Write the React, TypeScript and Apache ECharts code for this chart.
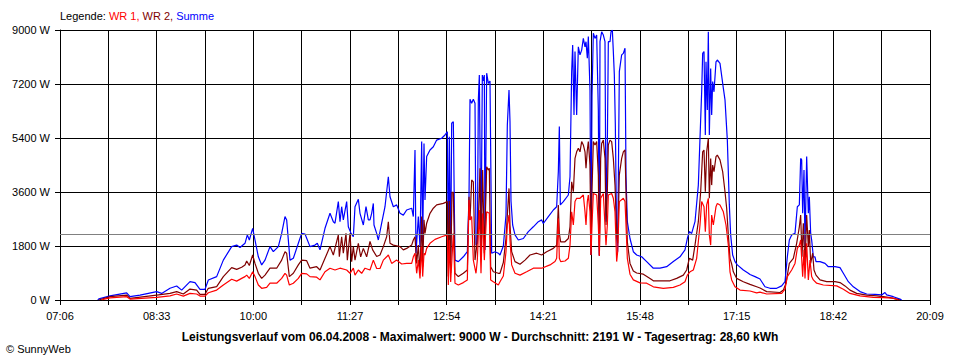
import React, { useEffect, useRef } from "react";
import * as echarts from "echarts";

// time in minutes of the day, power in W
const START_MIN = 426; // 07:06
const END_MIN = 1209; // 20:09
const TICK_STEP = 43.5;
const LABEL_STEP = 87;
const Y_MAX = 9000;
const Y_STEP = 1800;
const AVERAGE = 2191;

const TITLE =
  "Leistungsverlauf vom 06.04.2008 - Maximalwert: 9000 W - Durchschnitt: 2191 W - Tagesertrag: 28,60 kWh";

const summe: number[][] = [
  [460,0],[461,40],[471,140],[486,240],[489,110],[498,165],[513,280],[517.5,220],[525,390],[531,465],[535.5,330],[543,610],[547.5,580],[552,355],[556.5,355],[559.5,665],[567,780],[573,1330],[580.5,1780],[585,1830],[588,1750],[592.5,1890],[594.6,2170],[596.4,2000],[599.4,2390],[601.5,2000],[604.5,1440],[607.5,1170],[610.5,1330],[615,1780],[618,1610],[622.5,1780],[625.5,2220],[628.5,2780],[630,2670],[633,1330],[636,1390],[640.5,1890],[643.5,2220],[646.5,2200],[651,1780],[655.5,1830],[657.6,1890],[660,1670],[664.5,2390],[669,2890],[672,2610],[673.5,2560],[676.5,3280],[678,2610],[679.5,3110],[681,2670],[684,3280],[685.5,2440],[687.9,2220],[690,2110],[691.5,3110],[694.5,3360],[696,2890],[699,2500],[701.4,3110],[703.5,2670],[705,2670],[706.5,2890],[708,3220],[708.6,2500],[711,2220],[712.5,2000],[715.5,2560],[718.5,3110],[721.5,4110],[723,3440],[726,3110],[729,3170],[732,2890],[735,2830],[738,3000],[742.5,3060],[744,2780],[745.5,5000],[746.4,1560],[748.5,2780],[750,1780],[751.5,5280],[752.4,1830],[753.6,5220],[754.5,3330],[756,4780],[759,5000],[762,5110],[765,5330],[769.5,5390],[772.5,5500],[774.6,5610],[775.5,1330],[776.4,5440],[777.6,1330],[778.5,5890],[780,5940],[781.5,1330],[784.5,1280],[789,1440],[792.6,1610],[794.1,3440],[795,6690],[796.5,6560],[798,6690],[799.5,6560],[800.4,1830],[801.6,1890],[802.5,6670],[803.4,7500],[804.9,1670],[806.1,7500],[807,7300],[807.9,7500],[808.5,1670],[810,7560],[811.5,7220],[813,7300],[814.5,1560],[817.5,1610],[820.5,1560],[822,1500],[825,1800],[827.4,2830],[828.6,5830],[830.1,7000],[831,5940],[831.9,3300],[833.4,2500],[835.5,2170],[838.5,2000],[843,2050],[847.5,2280],[852,2440],[856.5,2610],[859.5,2670],[861,2550],[865.5,2780],[870,3000],[873,3110],[874.5,4280],[875.4,5780],[876.3,3170],[879,3280],[883.5,3500],[885,4110],[886.5,7610],[887.4,8500],[888.6,6170],[889.5,8280],[891,6170],[892.5,8440],[894,8170],[895.5,8330],[897,8720],[898.5,8440],[899.4,8610],[900.6,8060],[901.5,8780],[903,7000],[903.9,1500],[904.8,6780],[906,8890],[907.5,8720],[909,8830],[910.5,6330],[911.4,1470],[912,8610],[913.5,8940],[915,8830],[916.5,8610],[917.4,2610],[918.6,5170],[919.5,8610],[921,8610],[921.9,8940],[923.1,9000],[924,8280],[924.9,7500],[925.8,5830],[927,2050],[927.9,1610],[929.4,7610],[930.6,7940],[931.5,8170],[933,8220],[934.5,8390],[935.4,4140],[936.6,2610],[939,2050],[942,1610],[945,1500],[949.5,1440],[954,1280],[960,1060],[966,1060],[972,1110],[978,1280],[984,1440],[988.5,1670],[990.6,2050],[992.4,2280],[994.5,2220],[997.5,2610],[1000.5,3830],[1002,5390],[1003.5,6940],[1004.4,8220],[1005.6,8280],[1006.8,5500],[1007.4,7940],[1008.6,6330],[1009.5,8940],[1010.4,5500],[1011.6,7720],[1012.5,6170],[1013.4,7280],[1014.6,6940],[1016.4,7940],[1017.6,8000],[1020,7890],[1023,7060],[1024.5,6670],[1026.6,5330],[1028.4,3170],[1029.6,2170],[1030.5,1830],[1031.4,1500],[1033.5,1280],[1035.6,1170],[1041,1000],[1045.5,890],[1047,850],[1051.5,780],[1056,700],[1060.5,440],[1065,390],[1071,390],[1075.5,470],[1078.5,610],[1080.6,1440],[1082.4,2000],[1084.5,2170],[1087.5,2220],[1089.6,3110],[1091.4,3170],[1092.6,4720],[1093.5,4670],[1094.4,2890],[1095.6,4330],[1096.5,1780],[1098,4780],[1099.5,2890],[1100.4,3440],[1101.6,2220],[1102.5,2000],[1104,1440],[1105.5,1440],[1106.4,1280],[1110,1280],[1114.5,1220],[1117.5,1110],[1123.5,1110],[1128,1080],[1131,890],[1135.5,610],[1140,440],[1146,280],[1152,200],[1159.5,190],[1165.5,170],[1168.5,250],[1170,170],[1176,110],[1182,30],[1183.5,0]
];

const wr2: number[][] = [
  [461,0],[471,110],[486,165],[489,55],[513,165],[525,220],[531,280],[537,200],[543,365],[549,330],[552,190],[556.5,190],[559.5,390],[567,445],[573,780],[580.5,1080],[585,1020],[589.5,1090],[592.5,1170],[594,1300],[596.4,1150],[599.4,1500],[601.5,1220],[604.5,890],[607.5,720],[610.5,830],[615,1060],[621,1060],[625.5,1330],[628.5,1610],[630,1560],[632.4,780],[636,890],[640.5,1170],[643.5,1330],[648,1310],[651,1060],[657,1110],[660,1000],[664.5,1390],[669,1780],[672,1500],[676.5,2170],[677.4,1440],[679.5,2110],[681,1560],[683.4,2220],[684.6,1330],[687,2220],[688.5,1280],[690,1780],[691.5,1330],[694.5,1890],[696.6,1440],[699,1720],[702,1440],[705,1950],[707.4,1670],[711,1450],[714,1500],[717,1780],[720,2110],[721.5,2610],[723,1890],[726,1830],[732,1780],[735,1670],[738,1720],[742.5,1830],[744,2000],[745.5,2110],[747,1220],[748.5,1830],[750,890],[751.5,2780],[752.4,1110],[753.6,2670],[754.5,2220],[756,2560],[759,2890],[762,3060],[765,3170],[771,3220],[774.6,3280],[775.5,780],[776.4,3300],[777.6,900],[778.8,3590],[780,3590],[781.5,890],[784.5,780],[789,890],[792.6,1000],[794.1,3440],[795,2670],[796.5,4000],[798,3940],[799.5,1330],[801,1780],[802.5,2670],[804,4390],[804.9,1330],[806.4,4330],[807.9,1560],[810,4440],[811.5,4330],[812.4,4390],[813.6,1110],[816,940],[820.5,890],[822,890],[825,1250],[827.4,2060],[828.6,2830],[830.1,3720],[831,2500],[832.5,1610],[835.5,1280],[840,1190],[844.5,1330],[849,1500],[855,1560],[859.5,1500],[864,1610],[870,1720],[873,1830],[874.5,3170],[875.4,2220],[876.6,1940],[880.5,1940],[883.5,2050],[885,2440],[886.5,3940],[888,3610],[889.5,4720],[891,4940],[892.5,5060],[894,4940],[895.5,5280],[897,5170],[898.5,4940],[899.4,4390],[900.6,5000],[901.5,5280],[903,4500],[903.9,1500],[904.8,3610],[906,5280],[907.5,5170],[909,5280],[910.5,4170],[911.4,1500],[912.6,4720],[913.5,5220],[915,5330],[916.5,4720],[917.4,2500],[918.6,3610],[919.5,5170],[921,5330],[922.5,5280],[924,4720],[925.5,3830],[927,2220],[927.9,1890],[929.4,4170],[931.5,4720],[933,4940],[934.5,5000],[935.4,3610],[936.6,1940],[939,1220],[942,970],[945,900],[951,860],[957,720],[960,640],[975,640],[981,720],[987,830],[990,1000],[992.4,1390],[995.4,1330],[997.5,1830],[1000.5,2610],[1002.6,3610],[1004.4,4940],[1005.6,5000],[1006.8,3610],[1008,4940],[1009.5,5390],[1010.4,3390],[1011.6,4720],[1012.5,3830],[1013.4,4500],[1014.6,4280],[1016.4,4780],[1017.6,4830],[1020,4670],[1022.4,4280],[1024.5,3610],[1026,3060],[1027.5,2170],[1029,1390],[1030.5,1200],[1032,940],[1035,720],[1041,610],[1047,520],[1053,440],[1056,400],[1062,280],[1074,250],[1077,330],[1079.4,560],[1082.4,1220],[1086,1390],[1089,1890],[1091.4,2440],[1092.6,2830],[1093.8,1440],[1095,2560],[1096.5,1110],[1098,2830],[1099.5,1780],[1100.4,2330],[1101.6,1220],[1103.4,1560],[1104.6,1000],[1106.4,830],[1110,670],[1116,610],[1123.5,610],[1128,580],[1132.5,470],[1137,330],[1143,220],[1152,160],[1161,140],[1167,110],[1173,80],[1179,30],[1182,0]
];

const wr1: number[][] = [
  [464,0],[465,20],[471,70],[486,110],[489,30],[513,90],[525,140],[531,200],[537,130],[543,220],[549,200],[552,130],[556.5,130],[559.5,240],[567,330],[573,500],[580.5,690],[585,630],[589.5,720],[592.5,780],[594,830],[596.4,720],[599.4,940],[601.5,780],[604.5,500],[607.5,390],[612,420],[615,560],[621,560],[625.5,720],[628.5,890],[630,830],[632.4,500],[636,560],[640.5,720],[643.5,890],[648,870],[651,780],[657,760],[660,670],[664.5,940],[669,1060],[673.5,1000],[678,1060],[684,1000],[687,890],[690,1060],[691.5,830],[694.5,1000],[697.5,890],[700.5,1060],[705,1000],[708,1330],[711,1050],[714,1050],[717,1330],[720,1440],[721.5,1500],[724.5,1220],[729,1330],[733.5,1200],[738,1220],[742.5,1220],[744,1440],[745.5,1560],[747,890],[748.5,1330],[750,720],[751.5,1780],[752.4,780],[753.6,1560],[754.5,1500],[756,1720],[759,1890],[763.5,2020],[769.5,2110],[774.6,2170],[775.5,500],[776.4,2000],[777.6,600],[780,2220],[781.5,560],[784.5,500],[789,580],[792.6,670],[794.1,3330],[795,2670],[796.5,2780],[798,1330],[800.4,890],[801.6,1330],[803.4,3000],[804.9,890],[806.4,2890],[807.9,1330],[810,2940],[812.4,2890],[813.6,670],[816,610],[820.5,500],[822,610],[825,800],[827.4,1610],[828.6,2500],[830.1,2830],[831,2000],[832.5,1170],[835.5,890],[840,830],[846,940],[852,1060],[859.5,1060],[867,1170],[871.5,1280],[873,1390],[874.5,2720],[875.4,1390],[876.6,1280],[880.5,1300],[883.5,1390],[885,1830],[886.5,2940],[888,2500],[889.5,3280],[891,3390],[894,3390],[897,3500],[898.5,2940],[899.4,2500],[900.6,3280],[901.5,3500],[903,2940],[903.9,1500],[904.8,2500],[906,3550],[909,3500],[910.5,2500],[911.4,1470],[912.6,3390],[915,3550],[917.4,1830],[918.6,2500],[919.5,3500],[922.5,3550],[924,3390],[925.5,2940],[927,1280],[927.9,1610],[929.4,3280],[933,3390],[934.5,3280],[935.4,2500],[936.6,1390],[939,860],[942,670],[948,570],[954,560],[960,440],[969,390],[978,420],[984,500],[988.5,610],[990.6,830],[993,940],[996,1000],[999,1390],[1002,2500],[1003.5,3280],[1005.6,3110],[1006.8,2280],[1008,3170],[1009.5,3390],[1010.4,2170],[1011.6,1830],[1012.5,2830],[1014,2500],[1016.4,3110],[1017.6,3220],[1020,3170],[1023,2940],[1025.4,2500],[1027.5,1830],[1029,940],[1030.5,670],[1033.5,440],[1038,330],[1047,300],[1053,240],[1056,260],[1062,200],[1075.5,220],[1078.5,360],[1080.6,780],[1084.5,1000],[1087.5,1220],[1089.6,1720],[1091.4,1830],[1092.6,2000],[1094.4,780],[1095.6,1670],[1096.5,720],[1098,1890],[1099.5,670],[1101,1330],[1102.5,780],[1104,670],[1107,560],[1113,500],[1125,470],[1131,360],[1137,220],[1146,140],[1158,90],[1167,80],[1176,60],[1180.5,0]
];

const FONT = "'Liberation Sans', Arial, sans-serif";
const BLUE = "#0000ff";
const RED = "#ff0000";
const DARK_RED = "#800000";

const pad = (n: number) => String(n).padStart(2, "0");
const clock = (m: number) => `${pad(Math.floor(m / 60))}:${pad(Math.round(m % 60))}`;
const shift = (arr: number[][]) => arr.map(([t, w]) => [t - START_MIN, w]);

export default function App() {
  const ref = useRef<HTMLDivElement>(null);
  useEffect(() => {
    if (!ref.current) return;
    const chart = echarts.init(ref.current, undefined, { renderer: "svg" });
    const lineSeries = (name: string, data: number[][], color: string, extra: any = {}) => ({
      name,
      type: "line",
      data: shift(data),
      showSymbol: false,
      symbol: "none",
      silent: true,
      lineStyle: { color, width: 1.2 },
      itemStyle: { color },
      emphasis: { disabled: true },
      ...extra,
    });
    chart.setOption({
      animation: false,
      backgroundColor: "#ffffff",
      grid: { left: 60, right: 30, top: 30, bottom: 60, containLabel: false },
      xAxis: {
        type: "value",
        min: 0,
        max: END_MIN - START_MIN,
        interval: TICK_STEP,
        axisLine: { show: true, lineStyle: { color: "#000", width: 1 } },
        axisTick: { show: true, length: 5, lineStyle: { color: "#000", width: 1 } },
        axisLabel: {
          margin: 10,
          color: "#000",
          fontSize: 11,
          fontFamily: FONT,
          formatter: (v: number) =>
            Math.abs(v / LABEL_STEP - Math.round(v / LABEL_STEP)) < 1e-6 ? clock(v + START_MIN) : "",
        },
        splitLine: { show: true, lineStyle: { color: "#000", width: 1 } },
      },
      yAxis: {
        type: "value",
        min: 0,
        max: Y_MAX,
        interval: Y_STEP,
        axisLine: { show: true, lineStyle: { color: "#000", width: 1 } },
        axisTick: { show: true, length: 5, lineStyle: { color: "#000", width: 1 } },
        axisLabel: {
          margin: 10,
          color: "#000",
          fontSize: 11,
          fontFamily: FONT,
          formatter: (v: number) => `${v} W`,
        },
        splitLine: { show: true, lineStyle: { color: "#000", width: 1 } },
      },
      series: [
        lineSeries("Summe", summe, BLUE),
        lineSeries("WR 2", wr2, DARK_RED),
        lineSeries("WR 1", wr1, RED, {
          markLine: {
            silent: true,
            symbol: "none",
            label: { show: false },
            lineStyle: { color: "#808080", type: "solid", width: 1 },
            data: [{ yAxis: AVERAGE }],
          },
        }),
      ],
      graphic: [
        {
          type: "text",
          left: 60,
          top: 10,
          style: {
            text: "{k|Legende: }{a|WR 1, }{b|WR 2, }{c|Summe}",
            fontSize: 11,
            fontFamily: FONT,
            rich: {
              k: { fill: "#000", fontSize: 11, fontFamily: FONT },
              a: { fill: RED, fontSize: 11, fontFamily: FONT },
              b: { fill: DARK_RED, fontSize: 11, fontFamily: FONT },
              c: { fill: BLUE, fontSize: 11, fontFamily: FONT },
            },
          },
        },
        {
          type: "text",
          x: 480,
          y: 337,
          style: {
            text: TITLE,
            fill: "#000",
            fontSize: 12,
            fontWeight: "bold",
            fontFamily: FONT,
            align: "center",
            verticalAlign: "middle",
          },
        },
        {
          type: "text",
          x: 6,
          y: 349,
          style: {
            text: "© SunnyWeb",
            fill: "#000",
            fontSize: 11,
            fontFamily: FONT,
            align: "left",
            verticalAlign: "middle",
          },
        },
      ],
    });
    return () => chart.dispose();
  }, []);
  return (
    <div
      ref={ref}
      style={{ position: "absolute", left: 0, top: 0, width: 960, height: 360, background: "#fff" }}
    />
  );
}
